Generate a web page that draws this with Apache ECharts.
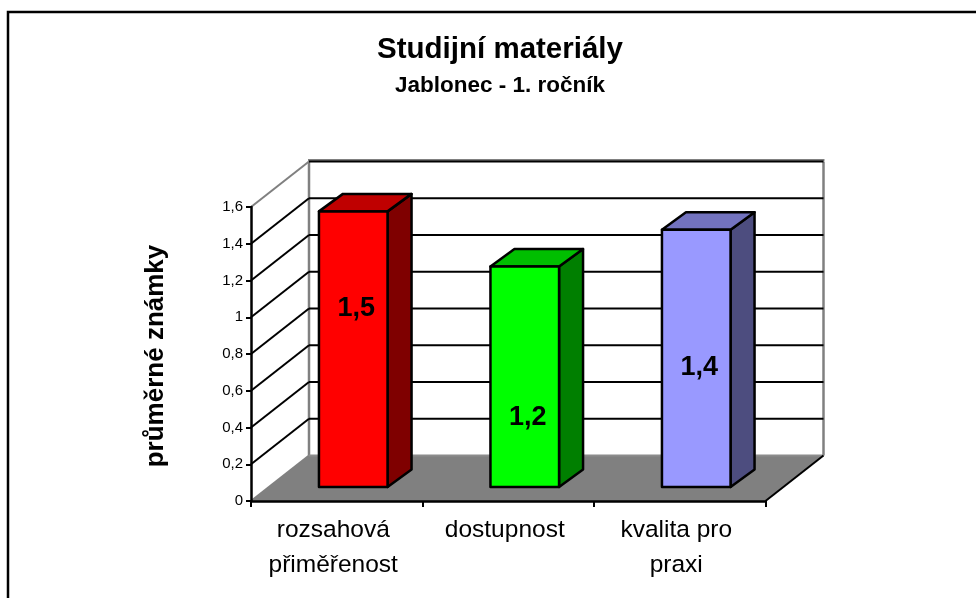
<!DOCTYPE html>
<html><head><meta charset="utf-8">
<style>html,body{margin:0;padding:0;background:#fff}#c{width:976px;height:598px}</style>
<script src="https://cdn.jsdelivr.net/npm/echarts@6/dist/echarts.min.js"></script>
</head><body><div id="c"></div>
<script>
const categories = ['rozsahová\npřiměřenost', 'dostupnost', 'kvalita pro\npraxi'];
const values = [1.5, 1.2, 1.4];
const valueLabels = ['1,5', '1,2', '1,4'];
const ticks = [0, 0.2, 0.4, 0.6, 0.8, 1, 1.2, 1.4, 1.6];
const faceColors = ['#ff0000', '#00ff00', '#9999ff'];
const topColors = ['#bf0000', '#00bf00', '#7373bf'];
const sideColors = ['#7f0000', '#007f00', '#4d4d7f'];

const FONT = '"Liberation Sans", Arial, sans-serif';
const DX = 58, DY = 45.5;          // depth of the floor
const BAR_DX = 24, BAR_DY = 17.5;  // depth of a bar
const BAR_OX = 16.5, BAR_OY = 14;  // bars stand this far behind the front edge
const BAR_W = 0.4;                 // share of a category band
const LABEL_SHIFT = [-41, 41, 9];  // label offset from the bar centre

function poly(points, fill, stroke, lw) {
  return {type: 'polygon', shape: {points}, style: {fill, stroke: stroke || null, lineWidth: lw || 0, lineJoin: 'round'}};
}
function line(a, b, stroke, lw) {
  return {type: 'line', shape: {x1: a[0], y1: a[1], x2: b[0], y2: b[1]}, style: {stroke, lineWidth: lw}};
}

const option = {
  animation: false,
  backgroundColor: '#fff',
  title: [
    {text: 'Studijní materiály', left: 495, top: 30, textAlign: 'center',
     textStyle: {fontFamily: FONT, fontSize: 29.5, fontWeight: 'bold', color: '#000'}},
    {text: 'Jablonec - 1. ročník', left: 495, top: 69, textAlign: 'center',
     textStyle: {fontFamily: FONT, fontSize: 22.5, fontWeight: 'bold', color: '#000'}}
  ],
  graphic: [
    {type: 'polyline', shape: {points: [[976, 12], [8, 12], [8, 598]]}, style: {stroke: '#000', lineWidth: 2.5, fill: null}, silent: true}
  ],
  grid: {left: 251, right: 210.5, top: 207, bottom: 97},
  xAxis: {
    type: 'category', data: categories, z: 5,
    axisLine: {lineStyle: {color: '#000', width: 2.5}},
    axisTick: {show: true, length: 6, lineStyle: {color: '#000', width: 2}},
    axisLabel: {fontFamily: FONT, fontSize: 24.5, color: '#000', lineHeight: 35, margin: 12, padding: [0, 7, 0, 0]}
  },
  yAxis: {
    type: 'value', min: 0, max: 1.6, interval: 0.2, z: 5,
    name: 'průměrné známky', nameLocation: 'middle', nameGap: 82,
    nameTextStyle: {fontFamily: FONT, fontSize: 26, fontWeight: 'bold', color: '#000', padding: [0, 4, 0, 0]},
    axisLine: {show: true, lineStyle: {color: '#000', width: 2.5}},
    axisTick: {show: true, length: 5, lineStyle: {color: '#000', width: 2}},
    splitLine: {show: false},
    axisLabel: {fontFamily: FONT, fontSize: 15, color: '#000', margin: 8,
      formatter: v => String(+v.toFixed(1)).replace('.', ',')}
  },
  series: [
    {
      type: 'custom', z: 1, silent: true, clip: false,
      data: [[0]],
      renderItem(params, api) {
        const c = params.coordSys;
        const L = c.x, R = c.x + c.width, T = c.y, B = c.y + c.height;
        const kids = [
          poly([[L, B], [L + DX, B - DY], [R + DX, B - DY], [R, B]], '#808080'),
          line([L, B], [L + DX, B - DY], '#808080', 2),
          line([L + DX, T - DY], [L + DX, B - DY], '#808080', 2.5),
          line([R + DX, T - DY], [R + DX, B - DY], '#808080', 2.5),
          line([L, T], [L + DX, T - DY], '#808080', 2),
          line([L + DX - 1, T - DY - 1.5], [R + DX + 1, T - DY - 1.5], '#808080', 2),
          line([L + DX, B - DY], [R + DX, B - DY], '#8c8c8c', 2)
        ];
        ticks.forEach(t => {
          const y = api.coord([0, t])[1];
          if (t > 0 && t < 1.6) kids.push(line([L, y], [L + DX, y - DY], '#000', 2));
          if (t > 0) kids.push(line([L + DX, y - DY], [R + DX, y - DY], '#000', 2));
        });
        kids.push(line([R, B], [R + DX, B - DY], '#000', 2));
        return {type: 'group', children: kids};
      }
    },
    {
      type: 'custom', z: 3, clip: false,
      data: values.map((v, i) => [i, v]),
      encode: {x: 0, y: 1},
      renderItem(params, api) {
        const i = api.value(0), v = api.value(1);
        const band = api.size([1, 0])[0];
        const w = band * BAR_W;
        const base = api.coord([i, 0]), top = api.coord([i, v]);
        const x0 = base[0] - w / 2 + BAR_OX, x1 = x0 + w;
        const yB = base[1] - BAR_OY, yT = top[1] - BAR_OY;
        const cx = (x0 + x1) / 2, cy = (yT + yB) / 2 + LABEL_SHIFT[i];
        return {type: 'group', children: [
          poly([[x1, yB], [x1 + BAR_DX, yB - BAR_DY], [x1 + BAR_DX, yT - BAR_DY], [x1, yT]], sideColors[i], '#000', 2.5),
          poly([[x0, yT], [x0 + BAR_DX, yT - BAR_DY], [x1 + BAR_DX, yT - BAR_DY], [x1, yT]], topColors[i], '#000', 2.5),
          poly([[x0, yB], [x0, yT], [x1, yT], [x1, yB]], faceColors[i], '#000', 2.5),
          {type: 'text', style: {text: valueLabels[i], x: cx + 3, y: cy, align: 'center', verticalAlign: 'middle',
            fontFamily: FONT, fontSize: 27, fontWeight: 'bold', fill: '#000'}}
        ]};
      }
    }
  ]
};
const chart = echarts.init(document.getElementById('c'), null, {renderer: 'canvas'});
chart.setOption(option);
</script></body></html>
